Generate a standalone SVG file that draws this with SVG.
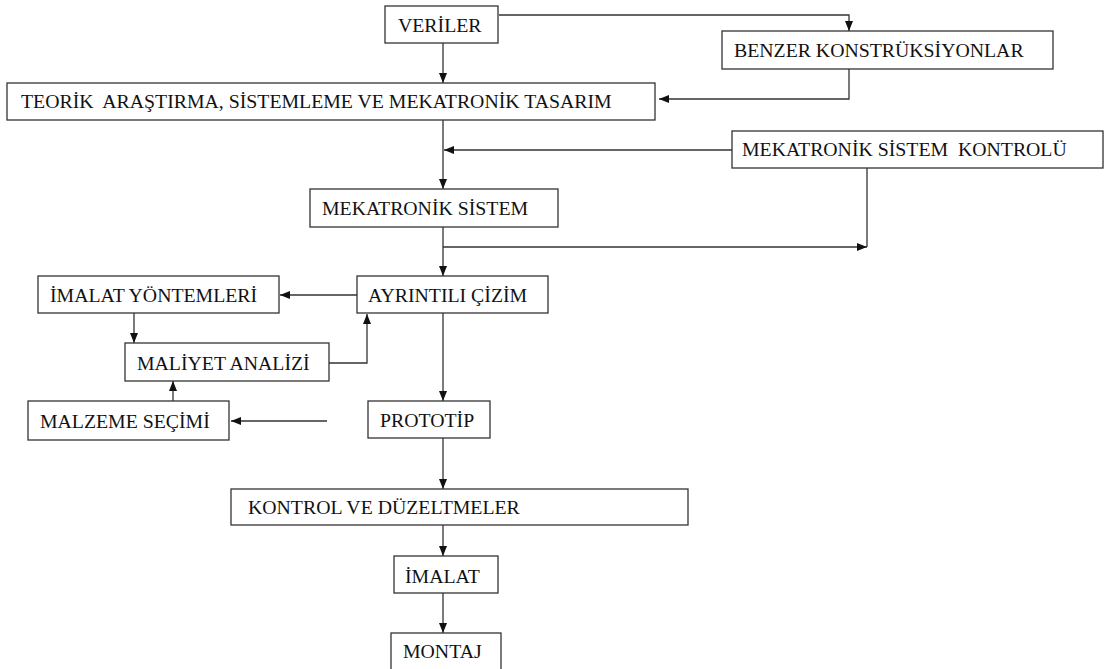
<svg xmlns="http://www.w3.org/2000/svg" width="1107" height="669" viewBox="0 0 1107 669">
  <style>
    .box { fill: #ffffff; stroke: #333333; stroke-width: 1.3; }
    .conn { fill: none; stroke: #333333; stroke-width: 1.3; }
  </style>
  <defs>
    <marker id="arrow" markerUnits="userSpaceOnUse" markerWidth="11" markerHeight="9" refX="10" refY="4" orient="auto">
      <path d="M0,0 L10,4 L0,8 z" fill="#111111"/>
    </marker>
  </defs>
  <rect x="0" y="0" width="1107" height="669" fill="#ffffff"/>

  <!-- connectors -->
  <g id="connectors">
    <polyline class="conn" points="499,15 849,15 849,31" marker-end="url(#arrow)"/>
    <line class="conn" x1="443" y1="43" x2="443" y2="83" marker-end="url(#arrow)"/>
    <polyline class="conn" points="849,69 849,99 659,99" marker-end="url(#arrow)"/>
    <line class="conn" x1="443" y1="120" x2="443" y2="189" marker-end="url(#arrow)"/>
    <line class="conn" x1="732" y1="150" x2="444" y2="150" marker-end="url(#arrow)"/>
    <line class="conn" x1="443" y1="227" x2="443" y2="276" marker-end="url(#arrow)"/>
    <line class="conn" x1="443" y1="247" x2="867" y2="247" marker-end="url(#arrow)"/>
    <line class="conn" x1="867" y1="168" x2="867" y2="247"/>
    <line class="conn" x1="357" y1="295" x2="280" y2="295" marker-end="url(#arrow)"/>
    <line class="conn" x1="134" y1="313" x2="134" y2="343" marker-end="url(#arrow)"/>
    <polyline class="conn" points="323,363 367,363 367,314" marker-end="url(#arrow)"/>
    <line class="conn" x1="173" y1="401" x2="173" y2="381" marker-end="url(#arrow)"/>
    <line class="conn" x1="327" y1="421" x2="231" y2="421" marker-end="url(#arrow)"/>
    <line class="conn" x1="443" y1="313" x2="443" y2="401" marker-end="url(#arrow)"/>
    <line class="conn" x1="443" y1="438" x2="443" y2="489" marker-end="url(#arrow)"/>
    <line class="conn" x1="443" y1="525" x2="443" y2="556" marker-end="url(#arrow)"/>
    <line class="conn" x1="443" y1="593" x2="443" y2="633" marker-end="url(#arrow)"/>
  </g>

  <!-- nodes: white boxes with dark outline, serif labels -->
  <g id="veriler">
    <rect class="box" x="385" y="6" width="113" height="37"/>
    <text x="398" y="32" style="font-family: 'Times New Roman', 'Liberation Serif', serif; font-size: 19.8px; fill: #111111">VERİLER</text>
  </g>
  <g id="benzer">
    <rect class="box" x="722" y="31" width="331" height="38"/>
    <text x="734" y="57" style="font-family: 'Times New Roman', 'Liberation Serif', serif; font-size: 19.8px; fill: #111111">BENZER KONSTRÜKSİYONLAR</text>
  </g>
  <g id="teorik">
    <rect class="box" x="7" y="83" width="648" height="37"/>
    <text x="21" y="108" xml:space="preserve" style="font-family: 'Times New Roman', 'Liberation Serif', serif; font-size: 19.8px; fill: #111111">TEORİK  ARAŞTIRMA, SİSTEMLEME VE MEKATRONİK TASARIM</text>
  </g>
  <g id="kontrolu">
    <rect class="box" x="732" y="131" width="371" height="37"/>
    <text x="742" y="156" xml:space="preserve" style="font-family: 'Times New Roman', 'Liberation Serif', serif; font-size: 19.8px; fill: #111111">MEKATRONİK SİSTEM  KONTROLÜ</text>
  </g>
  <g id="sistem">
    <rect class="box" x="310" y="189" width="248" height="38"/>
    <text x="322" y="215" style="font-family: 'Times New Roman', 'Liberation Serif', serif; font-size: 19.8px; fill: #111111">MEKATRONİK SİSTEM</text>
  </g>
  <g id="cizim">
    <rect class="box" x="357" y="276" width="191" height="37"/>
    <text x="368" y="302" style="font-family: 'Times New Roman', 'Liberation Serif', serif; font-size: 19.8px; fill: #111111">AYRINTILI ÇİZİM</text>
  </g>
  <g id="yontemler">
    <rect class="box" x="38" y="276" width="241" height="37"/>
    <text x="50" y="302" style="font-family: 'Times New Roman', 'Liberation Serif', serif; font-size: 19.8px; fill: #111111">İMALAT YÖNTEMLERİ</text>
  </g>
  <g id="maliyet">
    <rect class="box" x="125" y="343" width="204" height="38"/>
    <text x="137" y="370" style="font-family: 'Times New Roman', 'Liberation Serif', serif; font-size: 19.8px; fill: #111111">MALİYET ANALİZİ</text>
  </g>
  <g id="malzeme">
    <rect class="box" x="28" y="401" width="201" height="39"/>
    <text x="40" y="428" style="font-family: 'Times New Roman', 'Liberation Serif', serif; font-size: 19.8px; fill: #111111">MALZEME SEÇİMİ</text>
  </g>
  <g id="prototip">
    <rect class="box" x="368" y="401" width="122" height="37"/>
    <text x="380" y="427" style="font-family: 'Times New Roman', 'Liberation Serif', serif; font-size: 19.8px; fill: #111111">PROTOTİP</text>
  </g>
  <g id="duzeltmeler">
    <rect class="box" x="231" y="489" width="457" height="36"/>
    <text x="248" y="514" style="font-family: 'Times New Roman', 'Liberation Serif', serif; font-size: 19.8px; fill: #111111">KONTROL VE DÜZELTMELER</text>
  </g>
  <g id="imalat">
    <rect class="box" x="394" y="556" width="104" height="37"/>
    <text x="405" y="583" style="font-family: 'Times New Roman', 'Liberation Serif', serif; font-size: 19.8px; fill: #111111">İMALAT</text>
  </g>
  <g id="montaj">
    <rect class="box" x="391" y="633" width="110" height="42"/>
    <text x="403" y="658" style="font-family: 'Times New Roman', 'Liberation Serif', serif; font-size: 19.8px; fill: #111111">MONTAJ</text>
  </g>
</svg>
